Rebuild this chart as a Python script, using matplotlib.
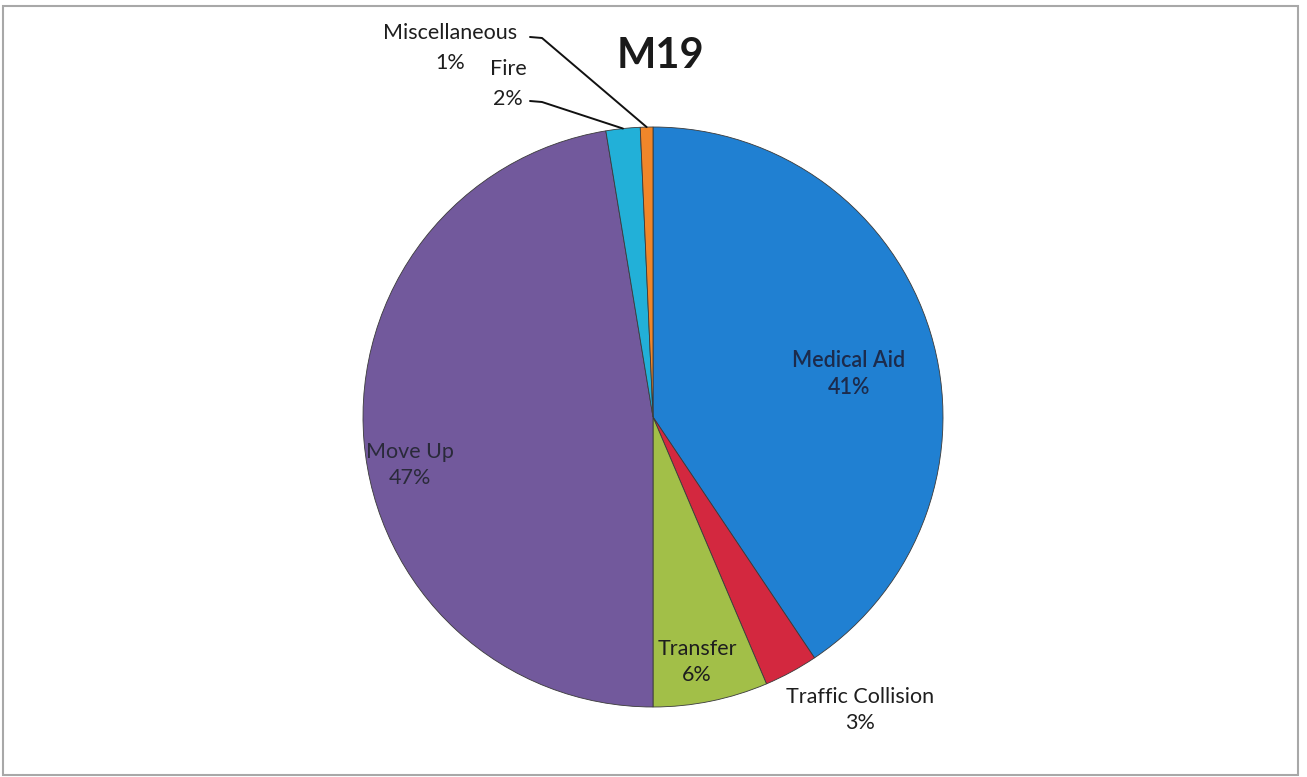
"""M19 call-type breakdown pie, redrawn from a scanned report page."""
import numpy as np
import matplotlib
matplotlib.use("Agg")
import matplotlib.pyplot as plt
from matplotlib.patches import Rectangle

plt.rcParams["font.family"] = ["Lato", "DejaVu Sans"]

categories = ["Medical Aid", "Traffic Collision", "Transfer", "Move Up", "Fire", "Miscellaneous"]
shares = [40.6, 3.0, 6.4, 47.4, 1.9, 0.7]
colours = ["#2080d2", "#d3283f", "#a2bf48", "#72599c", "#22b0d8", "#f0862a"]

W, H = 1307, 777
CX, CY, R = 653, 417, 290  # pie centre / radius in pixels
FS = 15.5


def px(x, y):
    """pixel position (top-left origin) -> data units with the pie at (0, 0), radius 1"""
    return (x - CX) / R, (CY - y) / R


fig = plt.figure(figsize=(W / 100, H / 100), dpi=100)
ax = fig.add_axes([0, 0, 1, 1])

wedges, _ = ax.pie(shares, colors=colours, startangle=90, counterclock=False,
                   radius=1, center=(0, 0),
                   wedgeprops=dict(edgecolor="#3a3a3a", linewidth=0.6))

ax.set_xlim(-CX / R, (W - CX) / R)
ax.set_ylim((CY - H) / R, CY / R)
ax.set_aspect("auto")
ax.axis("off")

pct = [f"{round(s)}%" for s in shares]

# labels sitting on (or next to) their wedges
inside = {
    "Medical Aid": (px(849, 374), "#1c2b4c", "semibold"),
    "Move Up": (px(410, 465), "#2a2a3a", "normal"),
    "Transfer": (px(697, 662), "#1e1e1e", "normal"),
    "Traffic Collision": (px(860, 710), "#1e1e1e", "normal"),
}
for i, name in enumerate(categories):
    if name in inside:
        (x, y), c, w = inside[name]
        ax.text(x, y, f"{name}\n{pct[i]}", ha="center", va="center",
                fontsize=FS, color=c, fontweight=w, linespacing=1.4)

# small slices at the top get leader lines; name and value as separate lines
# so the two labels' boxes don't collide
leaders = {
    "Fire": (px(508, 69), px(508, 99), px(530, 101)),
    "Miscellaneous": (px(450, 33), px(450, 63), px(530, 37)),
}
angles = 90 - np.cumsum([0] + shares[:-1]) * 3.6 - np.array(shares) * 1.8
for i, name in enumerate(categories):
    if name not in leaders:
        continue
    (nx, ny), (vx, vy), (sx, sy) = leaders[name]
    ax.text(nx, ny, name, ha="center", va="center", fontsize=FS, color="#1e1e1e")
    ax.text(vx, vy, pct[i], ha="center", va="center", fontsize=FS, color="#1e1e1e")
    a = np.deg2rad(angles[i])
    ex, ey = np.cos(a), np.sin(a)
    ax.plot([sx, sx + 12 / R, ex], [sy, sy - 1 / R, ey], color="#111111", lw=1.4,
            solid_capstyle="round")

ax.text(*px(660, 56), "M19", ha="center", va="center", fontsize=30,
        fontweight="bold", color="#1a1a1a")

# outer chart-area frame
fig.patches.append(Rectangle((3 / W, 2 / H), 1295 / W, 769 / H, transform=fig.transFigure,
                             fill=False, edgecolor="#a8a8a8", linewidth=1.5))

fig.savefig("out.png", dpi=100)
